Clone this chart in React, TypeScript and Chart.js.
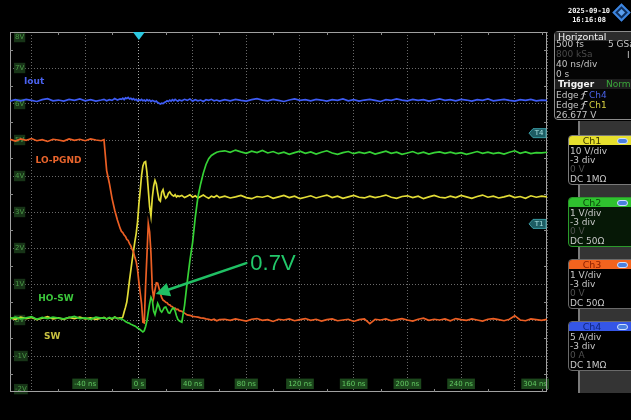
import React, { useEffect, useRef } from 'react';
import { Chart, registerables } from 'chart.js';

Chart.register(...registerables);

// ---------- DATA ----------
// time base in ns (shared by all four channels)
const timeNs = [
  -96, -92, -88, -84, -80, -76, -72, -68, -64, -60, -56, -52, -48, -44, -40, -36, -32, -28,
  -26, -24, -22, -20, -18, -16, -14,
  -13, -12, -11, -10, -9, -8, -7, -6, -5, -4, -3, -2, -1, 0, 1, 2, 3, 4, 5, 6, 7, 8, 9, 10,
  11, 12, 13, 14, 15, 16, 17, 18, 19, 20, 21, 22, 23, 24, 25, 26, 27, 28, 29, 30,
  32, 34, 36, 38, 40, 42, 44, 46, 48, 50, 52, 54, 56, 58, 60,
  64, 68, 72, 76, 80, 84, 88, 92, 96, 100, 104, 108, 112, 116, 120, 124, 128, 132, 136, 140,
  144, 148, 152, 156, 160, 164, 168, 172, 176, 180, 184, 188, 192, 196, 200, 204, 208, 212,
  216, 220, 224, 228, 232, 236, 240, 244, 248, 252, 256, 260, 264, 268, 272, 276, 280, 284,
  288, 292, 296, 300, 304,
];

// Ch4 - Iout (blue), in screen divisions/volts of the grid
const ioutV = [
  6.08, 6.12, 6.09, 6.13, 6.10, 6.07, 6.12, 6.15, 6.09, 6.11, 6.08, 6.13, 6.10, 6.14, 6.09, 6.12, 6.08, 6.11,
  6.13, 6.09, 6.12, 6.10, 6.15, 6.11, 6.14,
  6.13, 6.16, 6.12, 6.17, 6.15, 6.18, 6.14, 6.16, 6.12, 6.15, 6.11, 6.13, 6.09, 6.12, 6.10, 6.13, 6.09, 6.11, 6.08, 6.12, 6.09, 6.11,
  6.07, 6.10, 6.08, 6.06, 6.08, 6.04, 6.02, 6.00, 6.02, 6.01, 6.04, 6.06, 6.09, 6.07, 6.11, 6.08, 6.12, 6.09, 6.13, 6.10, 6.08, 6.11,
  6.09, 6.13, 6.10, 6.14, 6.08, 6.12, 6.09, 6.11, 6.07, 6.12, 6.10, 6.13, 6.09, 6.11, 6.08,
  6.12, 6.09, 6.13, 6.10, 6.08, 6.12, 6.15, 6.11, 6.09, 6.13,
  6.10, 6.07, 6.11, 6.14, 6.10, 6.12, 6.09, 6.13, 6.11, 6.08,
  6.12, 6.10, 6.14, 6.09, 6.12, 6.08, 6.11, 6.13, 6.10, 6.07,
  6.12, 6.10, 6.14, 6.11, 6.09, 6.13, 6.10, 6.12, 6.08, 6.11,
  6.14, 6.10, 6.12, 6.09, 6.13, 6.11, 6.08, 6.12, 6.10, 6.14,
  6.09, 6.11, 6.13, 6.10, 6.08, 6.12, 6.10, 6.13, 6.09, 6.11,
  6.10,
];

// Ch3 - LO-PGND (orange)
const loPgndV = [
  5.02, 4.97, 5.03, 4.99, 5.04, 4.98, 5.01, 4.96, 5.02, 5.00, 4.97, 5.03, 4.99, 5.02, 4.98, 5.03, 5.00, 4.98,
  5.01, 4.15, 3.80, 3.38, 3.05, 2.78, 2.55,
  2.46, 2.43, 2.36, 2.32, 2.24, 2.21, 2.12, 2.06, 1.96, 1.89,
  1.74, 1.62, 1.40, 1.05, 0.75, 0.45, -0.06, -0.08, 0.95, 1.80,
  2.68, 2.45, 1.85, 0.88, 0.62, 0.84, 1.03, 1.02, 0.88, 0.74,
  0.62, 0.55, 0.53, 0.49, 0.48, 0.43, 0.42, 0.38, 0.37, 0.32,
  0.33, 0.29, 0.30, 0.26,
  0.24, 0.19, 0.14, 0.13, 0.10, 0.09, 0.08, 0.06, 0.05, 0.03, 0.02, 0.00, 0.02, -0.02, 0.01,
  0.02, -0.01, 0.03, 0.00, -0.03, 0.02, 0.04, -0.01, 0.01, -0.04,
  0.02, 0.00, 0.03, -0.02, 0.01, 0.04, -0.01, 0.02, -0.03, 0.01,
  0.03, -0.02, 0.00, 0.02, -0.04, 0.01, 0.03, -0.10, 0.02, 0.00,
  0.03, -0.02, 0.01, 0.04, 0.00, -0.03, 0.02, 0.05, -0.01, 0.02,
  0.00, 0.03, -0.02, 0.04, 0.01, -0.01, 0.03, 0.00, -0.03, 0.02,
  0.04, 0.01, -0.02, 0.02, 0.12, 0.00, -0.02, 0.03, 0.01, -0.01,
  0.02,
];

// Ch1 - SW (yellow)
const swV = [
  0.06, 0.02, 0.08, 0.04, 0.07, 0.01, 0.05, 0.09, 0.03, 0.06, 0.02, 0.07, 0.04, 0.08, 0.03, 0.06, 0.02, 0.05,
  0.07, 0.03, 0.06, 0.02, 0.08, 0.04, 0.06,
  0.05, 0.08, 0.22, 0.35, 0.50, 0.78, 1.10, 1.38, 1.66, 1.92,
  2.18, 2.40, 2.72, 3.22, 3.60, 4.02, 4.28, 4.38, 4.40, 4.10,
  3.62, 3.14, 2.88, 3.40, 3.72, 3.88, 3.78, 3.54, 3.34, 3.30,
  3.55, 3.62, 3.46, 3.38, 3.42, 3.52, 3.56, 3.50, 3.46, 3.44,
  3.48, 3.42, 3.45, 3.43,
  3.46, 3.40, 3.44, 3.48, 3.41, 3.45, 3.39, 3.43, 3.47, 3.42, 3.38, 3.44, 3.41, 3.46, 3.40,
  3.44, 3.39, 3.42, 3.46, 3.40, 3.37, 3.43, 3.41, 3.45, 3.38,
  3.42, 3.46, 3.40, 3.44, 3.37, 3.41, 3.45, 3.39, 3.43, 3.47,
  3.40, 3.44, 3.38, 3.42, 3.46, 3.41, 3.39, 3.44, 3.40, 3.43,
  3.47, 3.41, 3.38, 3.43, 3.45, 3.40, 3.44, 3.37, 3.42, 3.46,
  3.41, 3.39, 3.44, 3.40, 3.46, 3.42, 3.38, 3.43, 3.47, 3.41,
  3.44, 3.39, 3.42, 3.46, 3.40, 3.43, 3.38, 3.45, 3.41, 3.44,
  3.42,
];

// Ch2 - HO-SW (green)
const hoSwV = [
  0.04, 0.08, 0.03, 0.06, 0.09, 0.02, 0.07, 0.04, 0.08, 0.05, 0.03, 0.07, 0.10, 0.04, 0.06, 0.02, 0.08, 0.05,
  0.06, 0.03, 0.07, 0.04, 0.08, 0.05, 0.03,
  0.04, 0.01, -0.01, -0.04, -0.06, -0.08, -0.09, -0.12, -0.13, -0.15,
  -0.17, -0.19, -0.22, -0.24, -0.27, -0.30, -0.33, -0.30, -0.18, -0.02,
  0.22, 0.45, 0.63, 0.55, 0.25, 0.15, 0.30, 0.46, 0.38, 0.26,
  0.22, 0.28, 0.35, 0.36, 0.28, 0.20, 0.19, 0.26, 0.32, 0.33,
  0.25, 0.12, 0.02, -0.02,
  -0.06, 0.40, 1.05, 1.65, 2.15, 2.85, 3.42, 3.78, 4.08, 4.32, 4.48, 4.57, 4.62, 4.66, 4.68,
  4.70, 4.66, 4.72, 4.67, 4.63, 4.69, 4.65, 4.71, 4.64, 4.68,
  4.62, 4.66, 4.60, 4.65, 4.69, 4.63, 4.67, 4.61, 4.66, 4.70,
  4.64, 4.60, 4.65, 4.68, 4.62, 4.66, 4.63, 4.67, 4.61, 4.65,
  4.69, 4.63, 4.66, 4.60, 4.64, 4.68, 4.62, 4.66, 4.61, 4.65,
  4.67, 4.63, 4.66, 4.62, 4.65, 4.60, 4.64, 4.68, 4.63, 4.66,
  4.62, 4.65, 4.61, 4.66, 4.70, 4.63, 4.67, 4.62, 4.65, 4.64,
  4.66,
];

// axis ticks
const yTicks = [-2, -1, 0, 1, 2, 3, 4, 5, 6, 7, 8];
const xTicks = [-96, -80, -40, 0, 40, 80, 120, 160, 200, 240, 280, 304];
const xTickLabels = ['', '', '-40 ns', '0 s', '40 ns', '80 ns', '120 ns', '160 ns', '200 ns', '240 ns', '', '304 ns'];

// on-screen trace names (time ns, level)
const traceLabels = [
  { text: 'Iout', t: -85.6, v: 6.62, color: '#4a62f0' },
  { text: 'LO-PGND', t: -77, v: 4.43, color: '#e8642c' },
  { text: 'HO-SW', t: -75, v: 0.6, color: '#3cc83c' },
  { text: 'SW', t: -70.6, v: -0.47, color: '#c8c040' },
];
const triggerLevels = [
  { label: 'T4', v: 5.19 },
  { label: 'T1', v: 2.67 },
];
const triggerTime = 0;
const callout = { text: '0.7V', tipT: 12.5, tipV: 0.72, tailT: 80, tailV: 1.58, textT: 83, textV: 1.39 };

// ---------- PLUGIN ----------
const scopePlugin = {
  id: 'scopeDecor',
  beforeDatasetsDraw(chart: any) {
    const { ctx, chartArea: ca, scales } = chart;
    const xs = scales.x;
    const ys = scales.y;
    ctx.save();
    ctx.strokeStyle = '#a0a0a0';
    ctx.lineWidth = 1;
    ctx.strokeRect(ca.left + 0.5, ca.top + 0.5, ca.right - ca.left - 1, ca.bottom - ca.top - 1);
    ctx.strokeStyle = '#8a8a8a';
    ctx.beginPath();
    for (let t = -60; t < 304; t += 40) {
      const px = Math.round(xs.getPixelForValue(t)) + 0.5;
      ctx.moveTo(px, ca.top); ctx.lineTo(px, ca.top + 3);
      ctx.moveTo(px, ca.bottom); ctx.lineTo(px, ca.bottom - 3);
    }
    for (let v = -1.5; v < 8; v += 1) {
      const py = Math.round(ys.getPixelForValue(v)) + 0.5;
      ctx.moveTo(ca.left, py); ctx.lineTo(ca.left + 3, py);
      ctx.moveTo(ca.right, py); ctx.lineTo(ca.right - 3, py);
    }
    ctx.stroke();
    ctx.restore();
  },
  afterDatasetsDraw(chart: any) {
    const { ctx, chartArea: ca, scales } = chart;
    const xs = scales.x;
    const ys = scales.y;
    ctx.save();
    // trace names
    ctx.font = 'bold 9px "DejaVu Sans"';
    ctx.textBaseline = 'middle';
    ctx.textAlign = 'left';
    traceLabels.forEach((l) => {
      ctx.fillStyle = l.color;
      ctx.fillText(l.text, xs.getPixelForValue(l.t), ys.getPixelForValue(l.v));
    });
    // trigger marker
    const tx = xs.getPixelForValue(triggerTime);
    ctx.fillStyle = '#2cc8e0';
    ctx.beginPath();
    ctx.moveTo(tx - 6, ca.top);
    ctx.lineTo(tx + 6, ca.top);
    ctx.lineTo(tx, ca.top + 8);
    ctx.closePath();
    ctx.fill();
    // trigger level tags
    ctx.font = '7px "DejaVu Sans"';
    ctx.textAlign = 'center';
    triggerLevels.forEach((lv) => {
      const py = ys.getPixelForValue(lv.v);
      const r = ca.right - 1;
      ctx.beginPath();
      ctx.moveTo(r - 17, py);
      ctx.lineTo(r - 13, py - 4.5);
      ctx.lineTo(r, py - 4.5);
      ctx.lineTo(r, py + 4.5);
      ctx.lineTo(r - 13, py + 4.5);
      ctx.closePath();
      ctx.fillStyle = '#1d5c63';
      ctx.fill();
      ctx.strokeStyle = '#3a9ca4';
      ctx.lineWidth = 1;
      ctx.stroke();
      ctx.fillStyle = '#a8e2e2';
      ctx.fillText(lv.label, r - 7, py + 0.5);
    });
    // callout arrow
    const x1 = xs.getPixelForValue(callout.tailT);
    const y1 = ys.getPixelForValue(callout.tailV);
    const x2 = xs.getPixelForValue(callout.tipT);
    const y2 = ys.getPixelForValue(callout.tipV);
    const ang = Math.atan2(y2 - y1, x2 - x1);
    const headLen = 14;
    const headW = 7;
    const bx = x2 - headLen * Math.cos(ang);
    const by = y2 - headLen * Math.sin(ang);
    ctx.strokeStyle = '#20c064';
    ctx.lineWidth = 2.6;
    ctx.lineCap = 'round';
    ctx.beginPath();
    ctx.moveTo(x1, y1);
    ctx.lineTo(bx, by);
    ctx.stroke();
    ctx.fillStyle = '#20c064';
    ctx.beginPath();
    ctx.moveTo(x2, y2);
    ctx.lineTo(bx + headW * Math.sin(ang), by - headW * Math.cos(ang));
    ctx.lineTo(bx - headW * Math.sin(ang), by + headW * Math.cos(ang));
    ctx.closePath();
    ctx.fill();
    ctx.font = '22px "Liberation Sans"';
    ctx.textAlign = 'left';
    ctx.textBaseline = 'alphabetic';
    ctx.fillStyle = '#22c86a';
    ctx.fillText(callout.text, xs.getPixelForValue(callout.textT), ys.getPixelForValue(callout.textV));
    ctx.restore();
  },
};

// ---------- PANEL ----------
const pf = '"DejaVu Sans", sans-serif';

function T(props: { x: number; y: number; c?: string; s?: number; b?: boolean; children: any }) {
  const { x, y, c = '#c4c4c4', s = 9, b = false, children } = props;
  return (
    <div
      style={{
        position: 'absolute', left: x, top: y - 5, height: 10, lineHeight: '10px',
        fontSize: s, fontFamily: pf, color: c, fontWeight: b ? 'bold' : 'normal', whiteSpace: 'nowrap',
      }}
    >
      {children}
    </div>
  );
}

function EdgeIcon({ x, y }: { x: number; y: number }) {
  return (
    <svg style={{ position: 'absolute', left: x, top: y - 5 }} width={8} height={10}>
      <path d="M0.5 9 H2.5 L4.5 1.5 H7.5" stroke="#d0d0d0" strokeWidth={1} fill="none" />
      <path d="M1.5 5 L3.5 3 L5.5 5" stroke="#d0d0d0" strokeWidth={0.8} fill="none" />
    </svg>
  );
}

const channelBoxes = [
  { name: 'Ch1', bar: 136, barC: '#e6df2e', txtC: '#3a3600', bg: '#000', border: '#7a7a7a', rows: ['10 V/div', '-3 div', '0 V', 'DC 1MΩ'] },
  { name: 'Ch2', bar: 198, barC: '#2fc22f', txtC: '#0b4a0b', bg: '#061806', border: '#2a9a2a', rows: ['1 V/div', '-3 div', '0 V', 'DC 50Ω'] },
  { name: 'Ch3', bar: 260, barC: '#f2631e', txtC: '#8a1e00', bg: '#000', border: '#6a6a6a', rows: ['1 V/div', '-3 div', '0 V', 'DC 50Ω'] },
  { name: 'Ch4', bar: 322, barC: '#3556e6', txtC: '#10267e', bg: '#000', border: '#6a6a6a', rows: ['5 A/div', '-3 div', '0 A', 'DC 1MΩ'] },
];

function Panel() {
  return (
    <>
      {/* date + logo */}
      <div style={{ position: 'absolute', left: 562, top: 7, width: 54, textAlign: 'center', fontFamily: '"DejaVu Sans Mono", monospace', fontWeight: 'bold', fontSize: 7, lineHeight: '8.5px', color: '#f2f2f2' }}>
        2025-09-10<br />16:16:08
      </div>
      <div style={{ position: 'absolute', left: 615, top: 6, width: 13, height: 13, transform: 'rotate(45deg)', border: '2px solid #3d86e0', background: '#0f2f5e', boxSizing: 'border-box' }}>
        <div style={{ position: 'absolute', left: 2, top: 2, width: 5, height: 5, background: '#5aa0f0' }} />
      </div>

      {/* connector column */}
      <div style={{ position: 'absolute', left: 578, top: 121, width: 60, height: 272, background: '#343434', borderLeft: '2px solid #7a7a7a', boxSizing: 'border-box' }} />

      {/* horizontal / trigger box */}
      <div style={{ position: 'absolute', left: 554, top: 31, width: 90, height: 89, border: '1px solid #8c8c8c', borderRadius: 4, background: '#040404', boxSizing: 'border-box' }} />
      <div style={{ position: 'absolute', left: 555, top: 32, width: 80, height: 9, background: '#2c2c2c' }} />
      <T x={558} y={36.5} c="#f4f4f4" s={9.5}>Horizontal</T>
      <T x={556} y={44}>500 fs</T>
      <T x={608} y={44}>5 GSa</T>
      <T x={556} y={54} c="#4a4a4a">800 kSa</T>
      <T x={627} y={55}>I</T>
      <T x={556} y={64}>40 ns/div</T>
      <T x={556} y={73.5}>0 s</T>
      <div style={{ position: 'absolute', left: 555, top: 79, width: 80, height: 10, background: '#1e1e1e' }} />
      <T x={558} y={84} c="#f4f4f4" b>Trigger</T>
      <T x={606} y={84} c="#3aa83a">Normal</T>
      <T x={556} y={94.5}>Edge</T>
      <EdgeIcon x={580} y={94.5} />
      <T x={589} y={94.5} c="#4a62e8">Ch4</T>
      <T x={556} y={104.5}>Edge</T>
      <EdgeIcon x={580} y={104.5} />
      <T x={589} y={104.5} c="#d8d040">Ch1</T>
      <T x={556} y={115}>26.677 V</T>

      {/* channel boxes */}
      {channelBoxes.map((ch) => (
        <React.Fragment key={ch.name}>
          <div style={{ position: 'absolute', left: 568, top: ch.bar - 1, width: 70, height: 50, border: `1px solid ${ch.border}`, borderRadius: 4, background: ch.bg, boxSizing: 'border-box', overflow: 'hidden' }}>
            <div style={{ position: 'absolute', left: 0, top: 0, width: 70, height: 9, background: ch.barC }} />
            <div style={{ position: 'absolute', left: 0, top: 0, width: 46, height: 9, lineHeight: '9px', textAlign: 'center', fontFamily: pf, fontSize: 9.5, color: ch.txtC }}>{ch.name}</div>
            <div style={{ position: 'absolute', left: 48, top: 1.5, width: 11, height: 6, borderRadius: 3, background: '#4a7fe0', border: '1px solid #cfe0ff', boxSizing: 'border-box' }} />
          </div>
          {ch.rows.map((r, i) => (
            <T key={r + i} x={570} y={ch.bar + 15 + i * 9.2} c={i === 2 ? '#505050' : '#c8c8c8'}>{r}</T>
          ))}
        </React.Fragment>
      ))}
    </>
  );
}

// ---------- APP ----------
export default function App() {
  const ref = useRef<HTMLCanvasElement>(null);

  useEffect(() => {
    const canvas = ref.current;
    if (!canvas) return;
    const toPts = (vals: number[]) =>
      timeNs.map((t, i) => ({ x: t, y: vals[i] })).filter((p) => typeof p.y === 'number');
    const lineDs = (label: string, vals: number[], color: string) => ({
      label, data: toPts(vals), borderColor: color, borderWidth: 1.7,
      pointRadius: 0, tension: 0, fill: false,
    });
    const chart = new Chart(canvas, {
      type: 'line',
      data: {
        datasets: [
          lineDs('HO-SW', hoSwV, '#36d236'),
          lineDs('LO-PGND', loPgndV, '#ec5f24'),
          lineDs('SW', swV, '#e2dc36'),
          lineDs('Iout', ioutV, '#3e5cf4'),
        ],
      },
      options: {
        responsive: false,
        animation: false,
        events: [],
        layout: { padding: { left: 10, top: 32, right: 84, bottom: 28 } },
        plugins: { legend: { display: false }, tooltip: { enabled: false } },
        scales: {
          x: {
            type: 'linear', min: -96, max: 304,
            afterBuildTicks: (ax: any) => { ax.ticks = xTicks.map((v) => ({ value: v })); },
            afterFit: (ax: any) => { ax.height = 0; },
            grid: {
              drawTicks: false, lineWidth: 1,
              color: (c: any) => (c.tick && c.tick.value === 0 ? '#a8a8a8' : '#6a6a6a'),
            },
            border: { display: false, dash: [1, 2] },
            ticks: {
              autoSkip: false, maxRotation: 0, minRotation: 0, align: 'inner',
              mirror: true, padding: 4,
              color: '#62c862', font: { family: 'DejaVu Sans', size: 7 },
              callback: (v: any) => xTickLabels[xTicks.indexOf(Number(v))] ?? '',
              showLabelBackdrop: true,
              backdropColor: (c: any) => (xTickLabels[c.index] ? '#1c481c' : 'rgba(0,0,0,0)'),
              backdropPadding: { left: 2, right: 2, top: 1, bottom: 1 },
            },
          },
          y: {
            type: 'linear', min: -2, max: 8,
            afterBuildTicks: (ax: any) => {
              ax.ticks = yTicks.map((v) => ({
                value: v === yTicks[yTicks.length - 1] ? v - 0.14 : v === yTicks[0] ? v + 0.08 : v,
              }));
            },
            afterFit: (ax: any) => { ax.width = 0; },
            grid: {
              drawTicks: false, lineWidth: 1,
              color: (c: any) => (c.tick && Number.isInteger(c.tick.value) ? '#6a6a6a' : 'rgba(0,0,0,0)'),
            },
            border: { display: false, dash: [1, 2] },
            ticks: {
              mirror: true, padding: 5,
              color: '#4c9a48', font: { family: 'DejaVu Sans', size: 7 },
              callback: (v: any) => Math.round(Number(v)) + 'V',
              showLabelBackdrop: true, backdropColor: '#173417',
              backdropPadding: { left: 1, right: 1, top: 1, bottom: 1 },
            },
          },
        },
      } as any,
      plugins: [scopePlugin],
    });
    return () => chart.destroy();
  }, []);

  return (
    <div style={{ position: 'fixed', left: 0, top: 0, width: 631, height: 420, background: '#000', overflow: 'hidden' }}>
      <canvas ref={ref} width={631} height={420} style={{ position: 'absolute', left: 0, top: 0, width: 631, height: 420 }} />
      <Panel />
    </div>
  );
}
